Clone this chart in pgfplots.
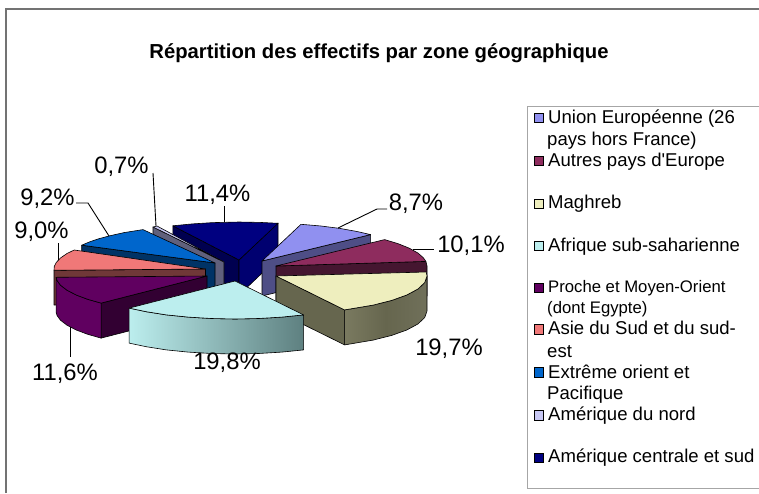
\documentclass[border=0pt]{standalone}
\usepackage{pgfplots}
\pgfplotsset{compat=1.18}
\usepackage{fontspec}
\setmainfont{Liberation Sans}[Ligatures=TeXOff]
\definecolor{cA}{HTML}{9090F0}\definecolor{cAs}{HTML}{4E4E86}
\definecolor{cB}{HTML}{8E2C5E}\definecolor{cBs}{HTML}{451630}
\definecolor{cC}{HTML}{EEEEBE}\definecolor{cCs}{HTML}{66664E}\definecolor{cCl}{HTML}{7A7A60}\definecolor{cCr}{HTML}{70705A}
\definecolor{cD}{HTML}{BCEEEE}\definecolor{cDr}{HTML}{5E8080}
\definecolor{cE}{HTML}{600060}\definecolor{cEs}{HTML}{320032}
\definecolor{cF}{HTML}{F07878}\definecolor{cFs}{HTML}{703838}
\definecolor{cG}{HTML}{0066CC}\definecolor{cGs}{HTML}{003366}
\definecolor{cH}{HTML}{C8C8F4}\definecolor{cHs}{HTML}{60607C}
\definecolor{cI}{HTML}{000080}\definecolor{cIs}{HTML}{000050}\definecolor{cIr}{HTML}{000070}
\newcommand\poly[2]{\addplot[#1] coordinates {#2} --cycle;}
\newcommand\lead[1]{\addplot[black,line width=0.9pt] coordinates {#1};}
\newcommand\lab[3]{\node[anchor=center,inner sep=0pt,font=\fontsize{23.8}{23.8}\selectfont] at (axis cs:#1,#2) {#3};}
\newcommand\legt[4][18.55]{\node[anchor=base west,inner sep=0pt,font=\fontsize{#1}{#1}\selectfont] at (axis cs:#2,#3) {#4};}
\begin{document}
\begin{tikzpicture}
\begin{axis}[
  hide axis, scale only axis, width=759pt, height=493pt,
  xmin=0, xmax=759, ymin=0, ymax=493, y dir=reverse,
  clip mode=individual,
  every axis plot post/.append style={mark=none},
  facet/.style={draw=black,line width=0.6pt,line join=round},
]
\addplot[fill=white,draw=none] coordinates {(0,0)(759,0)(759,493)(0,493)} --cycle;
% frame
\addplot[color=black!55,line width=1.2pt] coordinates {(6,493)(6,9)(759,9)};
% legend box
\addplot[color=black!35,line width=1pt] coordinates {(759,106)(527,106)(527,488)(759,488)};
% title
\node[anchor=center,inner sep=0pt,font=\fontsize{20.25}{20.25}\selectfont\bfseries] at (axis cs:379,53.5) {Répartition des effectifs par zone géographique};
% slice 9 Amerique centrale
\poly{facet,fill=cIs}{(172.8,225.8)(239,260)(239,295)(172.8,261)}
\poly{facet,fill=cIr}{(239,260)(278,223)(278,258)(239,295)}
\poly{facet,fill=cI}{(239,260)(172.8,225.8)(192.3,223.9)(212.8,222.6)(239,222)(260,222.4)(278.1,223.3)}
% slice 8 Amerique du nord
\poly{facet,fill=cHs}{(153,227)(224,262)(224,297)(153,262)}
\poly{facet,fill=cH}{(224,262)(153,227)(157,226)}
% slice 7 Extreme orient
\poly{facet,fill=cGs}{(81.7,245.2)(215,263)(215,298)(81.7,280)}
\poly{facet,fill=cG}{(215,263)(81.7,245.2)(89.8,241.8)(99.3,238.6)(110.1,235.7)(124.1,232.6)(143,229.6)}
% slice 6 Asie
\poly{facet,fill=cFs}{(54,270.3)(205.5,269)(205.5,304)(54,305)}
\poly{facet,fill=cF}{(205.5,269)(54,270.3)(54.3,266.3)(56.3,262.4)(60.6,257.9)(67,253.5)(74.2,250)}
% slice 5 Proche
\poly{facet,fill=cEs}{(101.1,303.1)(207,276)(207,311)(101.1,338.1)}
\poly{facet,fill=cE}{(101.1,303.1)(88,299.4)(76.2,295)(67,290.2)(60.5,285.2)(57.1,280.6)(56.1,277.3)(56.1,312.3)(57.1,315.6)(60.5,320.2)(67,325.2)(76.2,330)(88,334.4)(101.1,338.1)}
\poly{facet,fill=cE}{(207,276)(56.1,277.3)(57.1,280.6)(60.5,285.2)(67,290.2)(76.2,295)(88,299.4)(101.1,303.1)}
% slice 1 Union
\poly{facet,fill=cAs}{(262,261)(370.6,234.6)(370.6,269.6)(262,296)}
\poly{facet,fill=cA}{(262,261)(301,224.3)(321,226)(339.8,228.4)(357,231.5)(370.6,234.6)}
% slice 2 Autres
\poly{facet,fill=cBs}{(276,266)(425.9,261.4)(427,266)(427,296)(276,301)}
\poly{facet,fill=cB}{(276,266)(384.6,239.6)(398.2,243.7)(409.3,248.2)(417.9,253)(423.1,257.5)(425.9,261.4)}
% slice 3 Maghreb
\poly{facet,fill=cCs}{(276,276)(344.6,309.9)(344.6,344.9)(276,311)}
\poly{facet,left color=cCl,right color=cCr,middle color=cCs}{(344.6,309.9)(373.1,305.1)(391.7,300.4)(406.8,295)(417.9,289)(424.7,282.6)(427,276)(427,311)(424.7,317.6)(417.9,324)(406.8,330)(391.7,335.4)(373.1,340.1)(344.6,344.9)}
\poly{facet,fill=cC}{(276,276)(426.2,272)(427,276)(424.7,282.6)(417.9,289)(406.8,295)(391.7,300.4)(373.1,305.1)(344.6,309.9)}
% slice 4 Afrique
\poly{facet,left color=cD,right color=cDr}{(303.6,314.9)(281.7,317.1)(258.6,318.5)(235,319)(211.4,318.5)(188.3,317.1)(166.4,314.9)(146.2,311.7)(129.1,308.1)(129.1,343.1)(146.2,346.7)(166.4,349.9)(188.3,352.1)(211.4,353.5)(235,354)(258.6,353.5)(281.7,352.1)(303.6,349.9)}
\poly{facet,fill=cD}{(235,281)(129.1,308.1)(146.2,311.7)(166.4,314.9)(188.3,317.1)(211.4,318.5)(235,319)(258.6,318.5)(281.7,317.1)(303.6,314.9)}
% leader lines
\lead{(338,228)(377,209)(387,209)}
\lead{(413,249)(434,249)}
\lead{(70,327)(70,357)}
\lead{(58,243)(58,260)}
\lead{(76,203)(88,203)(109,236)}
\lead{(153,173)(156,226)}
\lead{(224,206)(224,222)}
% value labels
\lab{416}{203.5}{8,7\%}
\lab{471}{245.5}{10,1\%}
\lab{449}{348.5}{19,7\%}
\lab{227}{362.5}{19,8\%}
\lab{65}{373.5}{11,6\%}
\lab{41.5}{231.5}{9,0\%}
\lab{47.5}{198.5}{9,2\%}
\lab{121.5}{166.5}{0,7\%}
\lab{217.5}{194.5}{11,4\%}
% legend swatches
\poly{draw=black,line width=1pt,fill=cA}{(534.5,113)(543.5,113)(543.5,122.5)(534.5,122.5)}
\poly{draw=black,line width=1pt,fill=cB}{(534.5,156)(543.5,156)(543.5,165.5)(534.5,165.5)}
\poly{draw=black,line width=1pt,fill=cC}{(534.5,199)(543.5,199)(543.5,208.5)(534.5,208.5)}
\poly{draw=black,line width=1pt,fill=cD}{(534.5,241)(543.5,241)(543.5,250.5)(534.5,250.5)}
\poly{draw=black,line width=1pt,fill=cE}{(534.5,283)(543.5,283)(543.5,292.5)(534.5,292.5)}
\poly{draw=black,line width=1pt,fill=cF}{(534.5,324.5)(543.5,324.5)(543.5,334)(534.5,334)}
\poly{draw=black,line width=1pt,fill=cG}{(534.5,367.5)(543.5,367.5)(543.5,377)(534.5,377)}
\poly{draw=black,line width=1pt,fill=cH}{(534.5,410.5)(543.5,410.5)(543.5,420)(534.5,420)}
\poly{draw=black,line width=1pt,fill=cI}{(534.5,453)(543.5,453)(543.5,462.5)(534.5,462.5)}
% legend text
\legt{548}{123}{Union Européenne (26}
\legt{547}{145}{pays hors France)}
\legt{548}{166}{Autres pays d'Europe}
\legt{548}{208.5}{Maghreb}
\legt{548}{251}{Afrique sub-saharienne}
\legt[16.7]{548}{292.5}{Proche et Moyen-Orient}
\legt[16.7]{547}{313}{(dont Egypte)}
\legt{548}{334}{Asie du Sud et du sud-}
\legt{547}{357}{est}
\legt{548}{378}{Extrême orient et}
\legt{547}{399}{Pacifique}
\legt{548}{420}{Amérique du nord}
\legt{548}{462.5}{Amérique centrale et sud}
\end{axis}
\end{tikzpicture}
\end{document}
